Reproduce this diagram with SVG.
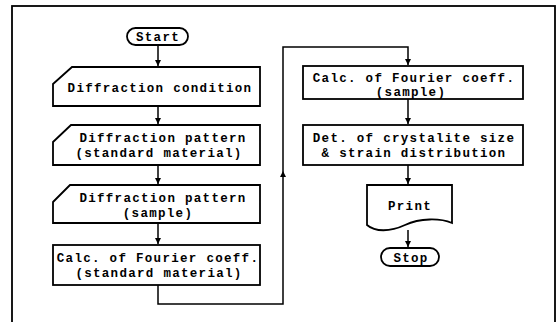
<svg xmlns="http://www.w3.org/2000/svg" width="557" height="322" viewBox="0 0 557 322">
<style>
.s{fill:#fff;stroke:#000;stroke-width:1.8}
.c{fill:none;stroke:#000;stroke-width:1.5}
text{font-family:"Liberation Mono","DejaVu Sans Mono",monospace;font-weight:bold;font-size:12.5px;fill:#000;text-anchor:middle;letter-spacing:1.3px}
</style>
<defs>
<marker id="ah" viewBox="0 0 6 8" refX="6" refY="4" markerWidth="6" markerHeight="8" orient="auto" markerUnits="userSpaceOnUse">
<path d="M0,1 L6,4 L0,7 Z" fill="#000"/>
</marker>
</defs>
<rect x="0" y="0" width="557" height="322" fill="#fff"/>
<rect x="12" y="6" width="543" height="330" fill="none" stroke="#000" stroke-width="1.8"/>
<g id="connectors">
<path class="c" d="M158,45 V66" marker-end="url(#ah)"/>
<path class="c" d="M158,106 V124" marker-end="url(#ah)"/>
<path class="c" d="M158,165 V184" marker-end="url(#ah)"/>
<path class="c" d="M158,223 V244" marker-end="url(#ah)"/>
<path class="c" d="M158,285 V304 H283 V47 H408 V65" marker-end="url(#ah)"/>
<path d="M280,177 L283,171 L286,177 Z" fill="#000"/>
<path class="c" d="M408,99 V124" marker-end="url(#ah)"/>
<path class="c" d="M408,165 V184" marker-end="url(#ah)"/>
<path class="c" d="M408,230 V247" marker-end="url(#ah)"/>
</g>
<g id="start">
<rect class="s" x="127" y="28" width="61" height="17" rx="8.5"/>
<text x="158" y="41">Start</text>
</g>
<g id="diffraction-condition">
<polygon class="s" points="53,84 72,67 260,67 260,106 53,106"/>
<text x="160" y="92">Diffraction condition</text>
</g>
<g id="diffraction-pattern-standard">
<polygon class="s" points="53,142 71,125 260,125 260,165 53,165"/>
<text x="163" y="142">Diffraction pattern</text>
<text x="159" y="157">(standard material)</text>
</g>
<g id="diffraction-pattern-sample">
<polygon class="s" points="53,202 70,185 260,185 260,223 53,223"/>
<text x="163" y="202">Diffraction pattern</text>
<text x="158" y="217">(sample)</text>
</g>
<g id="calc-standard">
<rect class="s" x="53" y="245" width="207" height="40"/>
<text x="158" y="262">Calc. of Fourier coeff.</text>
<text x="159" y="277">(standard material)</text>
</g>
<g id="calc-sample">
<rect class="s" x="303" y="66" width="220" height="33"/>
<text x="414" y="82">Calc. of Fourier coeff.</text>
<text x="411" y="96">(sample)</text>
</g>
<g id="determination">
<rect class="s" x="303" y="125" width="220" height="40"/>
<text x="414" y="142">Det. of crystalite size</text>
<text x="414" y="157">&amp; strain distribution</text>
</g>
<g id="print">
<path class="s" d="M367,185 H452 V223 C440,218 420,218 405,225 C390,232 375,232 367,225 Z"/>
<text x="410" y="210">Print</text>
</g>
<g id="stop">
<rect class="s" x="381" y="248" width="58" height="18" rx="9"/>
<text x="411" y="262">Stop</text>
</g>
</svg>
